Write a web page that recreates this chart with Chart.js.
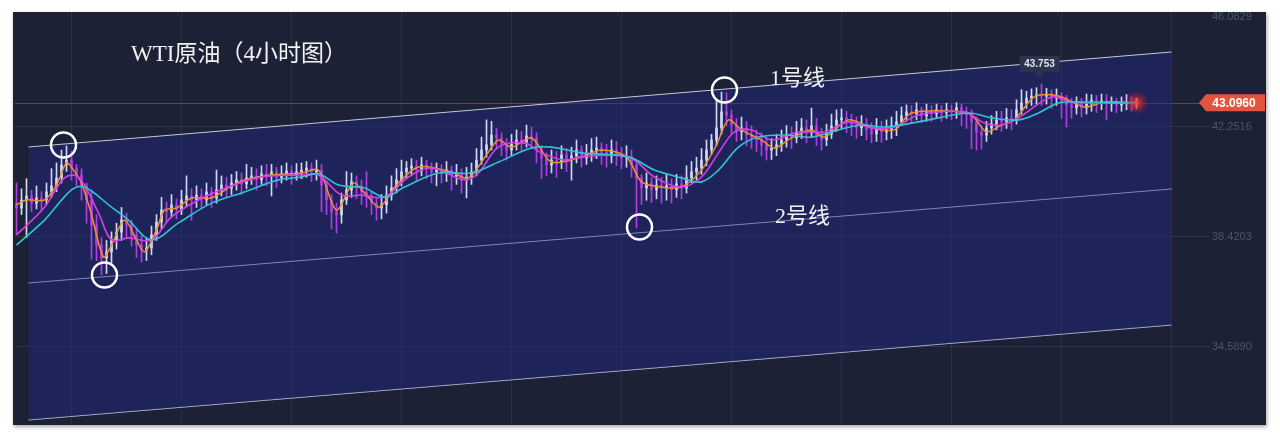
<!DOCTYPE html>
<html>
<head>
<meta charset="utf-8">
<script src="https://cdn.jsdelivr.net/npm/chart.js@4.4.1/dist/chart.umd.min.js"></script>
<style>
  html, body { margin: 0; padding: 0; background: #fff; }
  #panel { position: absolute; left: 13px; top: 12px; width: 1253px; height: 413px; background: #1c2136; box-shadow: 1px 2px 4px rgba(0,0,0,0.35); }
</style>
</head>
<body>
<div id="panel"><canvas id="wtiChart" width="1253" height="413"></canvas></div>
<script>
// 4h candles, index 0..224
const opens = [
  39.60, 39.43, 39.71, 39.85, 39.60, 39.78, 39.71, 39.99, 40.20, 40.48,
  40.93, 41.10, 40.82, 40.58, 40.23, 39.71, 38.84, 38.14, 37.69, 37.90,
  38.32, 38.59, 39.01, 38.84, 38.49, 38.14, 37.97, 38.04, 38.49, 38.94,
  39.36, 39.29, 39.54, 39.36, 39.71, 39.85, 39.71, 39.88, 39.71, 39.99,
  39.78, 40.06, 40.23, 40.13, 40.30, 40.41, 40.27, 40.48, 40.55, 40.41,
  40.62, 40.55, 40.69, 40.48, 40.62, 40.72, 40.55, 40.69, 40.75, 40.82,
  40.69, 40.75, 40.23, 39.71, 39.29, 39.19, 39.71, 40.06, 40.34, 40.20,
  39.99, 39.85, 39.60, 39.43, 39.54, 39.88, 40.13, 40.41, 40.69, 40.82,
  40.89, 40.75, 40.93, 40.82, 40.69, 40.75, 40.62, 40.75, 40.55, 40.62,
  40.41, 40.51, 40.69, 41.10, 41.45, 41.63, 41.97, 41.87, 41.63, 41.45,
  41.66, 41.80, 41.73, 41.94, 41.87, 41.45, 41.17, 40.93, 41.10, 41.03,
  41.28, 41.10, 41.24, 41.45, 41.17, 41.31, 41.45, 41.52, 41.38, 41.24,
  41.45, 41.28, 41.17, 41.21, 40.93, 40.48, 40.13, 40.30, 40.06, 40.23,
  40.13, 40.20, 40.06, 40.27, 40.13, 40.48, 40.69, 40.82, 41.10, 41.45,
  41.80, 42.22, 42.78, 42.67, 42.32, 42.08, 42.22, 41.97, 41.87, 41.80,
  41.63, 41.45, 41.52, 41.63, 41.80, 41.94, 41.87, 42.08, 42.22, 42.04,
  42.29, 41.97, 41.80, 42.01, 42.29, 42.50, 42.57, 42.43, 42.32, 42.22,
  42.36, 42.15, 42.01, 42.22, 42.08, 42.15, 42.29, 42.43, 42.64, 42.78,
  42.71, 42.85, 42.64, 42.78, 42.71, 42.85, 42.74, 42.85, 42.78, 42.92,
  42.78, 42.67, 42.43, 42.08, 41.97, 42.22, 42.36, 42.50, 42.43, 42.57,
  42.50, 42.85, 43.09, 43.26, 43.33, 43.37, 43.33, 43.40, 43.26, 43.33,
  43.12, 43.02, 42.92, 43.06, 42.92, 43.06, 43.19, 43.09, 43.16, 43.06,
  43.12, 43.02, 43.06, 43.12, 43.06
];
const highs = [
  40.30, 40.10, 40.45, 40.05, 40.20, 40.00, 40.30, 40.80, 41.00, 41.45,
  41.59, 41.40, 40.95, 40.80, 40.30, 40.06, 39.20, 38.40, 38.30, 38.60,
  38.90, 39.45, 39.25, 39.00, 38.70, 38.45, 38.40, 38.80, 39.20, 39.80,
  39.65, 39.90, 39.75, 40.05, 40.55, 40.10, 40.20, 40.10, 40.30, 40.15,
  40.75, 40.55, 40.50, 40.60, 40.70, 40.65, 40.95, 40.85, 40.80, 40.90,
  40.95, 40.95, 40.85, 40.90, 41.00, 40.90, 40.98, 41.00, 41.05, 41.00,
  41.10, 40.95, 40.35, 39.90, 39.60, 39.95, 40.70, 40.65, 40.55, 40.40,
  40.70, 40.00, 39.80, 39.90, 40.20, 40.55, 40.80, 41.10, 41.05, 41.15,
  41.10, 41.20, 41.10, 41.00, 41.00, 40.95, 41.05, 40.90, 40.95, 40.80,
  40.85, 41.00, 41.50, 41.90, 42.50, 42.45, 42.20, 42.05, 41.85, 42.00,
  42.15, 42.10, 42.32, 42.25, 42.05, 41.60, 41.35, 41.45, 41.40, 41.60,
  41.50, 41.55, 41.80, 41.60, 41.65, 41.85, 41.90, 41.70, 41.65, 41.80,
  41.75, 41.55, 41.60, 41.45, 41.10, 40.60, 40.65, 40.50, 40.55, 40.50,
  40.60, 40.45, 40.60, 40.55, 40.90, 41.05, 41.20, 41.50, 41.80, 42.00,
  43.20, 43.47, 43.45, 42.85, 42.55, 42.60, 42.45, 42.30, 42.15, 42.05,
  41.90, 41.85, 42.00, 42.15, 42.30, 42.25, 42.45, 42.55, 42.50, 42.91,
  42.55, 42.20, 42.35, 42.70, 42.85, 42.88, 42.80, 42.70, 42.60, 42.65,
  42.55, 42.40, 42.55, 42.45, 42.50, 42.60, 42.80, 42.95, 43.02, 43.00,
  43.10, 42.95, 43.05, 43.00, 43.05, 43.00, 43.08, 43.02, 43.10, 43.05,
  42.95, 42.85, 42.60, 42.30, 42.45, 42.65, 42.80, 42.80, 42.90, 42.85,
  43.20, 43.55, 43.50, 43.58, 43.62, 43.753, 43.60, 43.55, 43.58, 43.45,
  43.35, 43.25, 43.30, 43.25, 43.40, 43.38, 43.35, 43.40, 43.38, 43.30,
  43.25, 43.30, 43.38, 43.30, 43.25
];
const lows = [
  38.50, 39.20, 38.40, 39.30, 39.40, 39.35, 39.55, 39.80, 40.00, 40.30,
  40.70, 40.40, 40.20, 39.70, 38.90, 37.65, 37.60, 37.10, 37.15, 37.50,
  38.00, 38.30, 38.40, 38.10, 37.70, 37.55, 37.60, 37.80, 38.30, 38.70,
  38.95, 39.10, 39.05, 39.20, 39.50, 39.00, 39.45, 39.40, 39.55, 39.45,
  39.60, 39.85, 39.80, 39.90, 40.05, 39.90, 40.10, 40.25, 40.05, 40.25,
  40.20, 39.85, 40.15, 40.30, 40.40, 40.25, 40.40, 40.45, 40.50, 40.35,
  40.40, 39.30, 39.20, 38.70, 38.56, 38.90, 39.55, 39.80, 39.75, 39.55,
  39.45, 39.20, 39.00, 39.05, 39.25, 39.70, 39.95, 40.20, 40.45, 40.55,
  40.40, 40.55, 40.45, 40.30, 40.20, 40.30, 40.35, 40.05, 40.25, 39.95,
  39.78, 40.25, 40.55, 40.95, 41.20, 41.45, 41.50, 41.25, 41.10, 41.25,
  41.45, 41.40, 41.55, 41.50, 41.00, 40.45, 40.55, 40.65, 40.50, 40.80,
  40.70, 40.40, 41.00, 40.85, 40.95, 41.05, 41.15, 40.95, 40.85, 41.00,
  40.90, 40.80, 40.85, 40.50, 38.73, 39.55, 39.70, 39.62, 39.75, 39.60,
  39.70, 39.60, 39.80, 39.75, 39.95, 40.30, 40.40, 40.60, 40.90, 41.30,
  41.60, 42.00, 42.30, 42.00, 41.75, 41.80, 41.60, 41.50, 41.40, 41.25,
  41.10, 41.12, 41.25, 41.40, 41.55, 41.50, 41.70, 41.85, 41.70, 41.90,
  41.60, 41.45, 41.60, 41.85, 42.10, 42.20, 42.05, 41.95, 41.85, 41.95,
  41.80, 41.70, 41.75, 41.72, 41.80, 41.85, 41.95, 42.30, 42.45, 42.40,
  42.50, 42.40, 42.45, 42.45, 42.55, 42.45, 42.55, 42.50, 42.55, 42.30,
  42.20, 41.50, 41.45, 41.48, 41.75, 42.00, 42.15, 42.10, 42.20, 42.15,
  42.35, 42.70, 42.90, 43.00, 43.05, 43.00, 43.05, 42.90, 43.00, 42.55,
  42.25, 42.55, 42.70, 42.60, 42.70, 42.80, 42.75, 42.85, 42.50, 42.80,
  42.75, 42.80, 42.85, 42.82, 42.90
];
const closes = [
  39.43, 39.71, 39.85, 39.60, 39.78, 39.71, 39.99, 40.20, 40.48, 40.93,
  41.10, 40.82, 40.58, 40.23, 39.71, 38.84, 38.14, 37.69, 37.90, 38.32,
  38.59, 39.01, 38.84, 38.49, 38.14, 37.97, 38.04, 38.49, 38.94, 39.36,
  39.29, 39.54, 39.36, 39.71, 39.85, 39.71, 39.88, 39.71, 39.99, 39.78,
  40.06, 40.23, 40.13, 40.30, 40.41, 40.27, 40.48, 40.55, 40.41, 40.62,
  40.55, 40.69, 40.48, 40.62, 40.72, 40.55, 40.69, 40.75, 40.82, 40.69,
  40.75, 40.23, 39.71, 39.29, 39.19, 39.71, 40.06, 40.34, 40.20, 39.99,
  39.85, 39.60, 39.43, 39.54, 39.88, 40.13, 40.41, 40.69, 40.82, 40.89,
  40.75, 40.93, 40.82, 40.69, 40.75, 40.62, 40.75, 40.55, 40.62, 40.41,
  40.51, 40.69, 41.10, 41.45, 41.63, 41.97, 41.87, 41.63, 41.45, 41.66,
  41.80, 41.73, 41.94, 41.87, 41.45, 41.17, 40.93, 41.10, 41.03, 41.28,
  41.10, 41.24, 41.45, 41.17, 41.31, 41.45, 41.52, 41.38, 41.24, 41.45,
  41.28, 41.17, 41.21, 40.93, 40.48, 40.13, 40.30, 40.06, 40.23, 40.13,
  40.20, 40.06, 40.27, 40.13, 40.48, 40.69, 40.82, 41.10, 41.45, 41.80,
  42.22, 42.78, 42.67, 42.32, 42.08, 42.22, 41.97, 41.87, 41.80, 41.63,
  41.45, 41.52, 41.63, 41.80, 41.94, 41.87, 42.08, 42.22, 42.04, 42.29,
  41.97, 41.80, 42.01, 42.29, 42.50, 42.57, 42.43, 42.32, 42.22, 42.36,
  42.15, 42.01, 42.22, 42.08, 42.15, 42.29, 42.43, 42.64, 42.78, 42.71,
  42.85, 42.64, 42.78, 42.71, 42.85, 42.74, 42.85, 42.78, 42.92, 42.78,
  42.67, 42.43, 42.08, 41.97, 42.22, 42.36, 42.50, 42.43, 42.57, 42.50,
  42.85, 43.09, 43.26, 43.33, 43.37, 43.33, 43.40, 43.26, 43.33, 43.12,
  43.02, 42.92, 43.06, 42.92, 43.06, 43.19, 43.09, 43.16, 43.06, 43.12,
  43.02, 43.06, 43.12, 43.06, 43.096
];

// moving averages: [candle index, price]
const maFast = [
  [0, 39.54], [2, 39.71], [5.6, 39.71], [8, 40.23], [10, 41.00], [11.4, 40.75], [13, 40.30],
  [15, 39.19], [17.4, 37.72], [19, 38.14], [21.6, 39.01], [24, 38.32], [25.6, 37.90], [28, 38.66],
  [29.6, 39.36], [32, 39.43], [35, 39.78], [39, 39.78], [43, 40.20], [45.6, 40.41], [51, 40.58],
  [57, 40.65], [60.4, 40.75], [64, 39.36], [67.4, 40.30], [70, 39.88], [72.6, 39.46], [76, 40.23],
  [80.4, 40.86], [87, 40.68], [89.6, 40.48], [91, 40.55], [94, 41.28], [96.4, 41.80], [99, 41.55],
  [103, 41.87], [107, 41.03], [113, 41.21], [117, 41.45], [122, 41.21], [125, 40.34], [129, 40.16],
  [133, 40.16], [137, 40.75], [140, 41.63], [142.4, 42.50], [145, 42.15], [149, 41.80], [151.6, 41.52],
  [155, 41.87], [159, 42.15], [161.6, 41.90], [166.4, 42.50], [171, 42.22], [175.6, 42.15], [179, 42.74],
  [189.6, 42.77], [191.6, 42.57], [194, 42.08], [197, 42.32], [199.6, 42.50], [203.6, 43.30],
  [208.4, 43.33], [213.6, 42.95], [217.6, 43.12], [224, 43.10]
];
const maMid = [
  [0, 38.49], [5.6, 39.46], [9.6, 40.48], [12.4, 40.51], [16.4, 39.26], [19, 38.32], [22.4, 38.39],
  [27, 38.32], [31, 39.12], [36.4, 39.71], [42.4, 40.16], [49, 40.51], [57, 40.58], [60.4, 40.58],
  [65, 39.88], [69, 39.88], [73.6, 39.81], [78.4, 40.51], [83, 40.82], [89.6, 40.41], [92.4, 40.65],
  [96.4, 41.55], [101.6, 41.69], [105, 41.35], [109.6, 41.10], [113, 41.21], [122.4, 41.21],
  [127.6, 40.51], [133, 40.16], [137, 40.51], [140.4, 41.35], [143.6, 42.08], [147, 42.15],
  [151, 41.80], [156.4, 42.08], [161.6, 42.08], [166.4, 42.43], [171, 42.22], [175.6, 42.25],
  [180.4, 42.67], [189.6, 42.77], [193.6, 42.39], [197, 42.32], [200.4, 42.57], [207, 43.30],
  [211, 43.12], [217, 43.09], [224, 43.10]
];
const maSlow = [
  [0, 38.14], [5.6, 39.01], [11, 40.06], [13.6, 40.16], [19, 39.46], [22.4, 39.01], [27, 38.32],
  [32.4, 38.91], [39, 39.60], [45.6, 39.99], [52.4, 40.41], [57, 40.51], [60.4, 40.62], [64.4, 40.23],
  [69.6, 40.13], [73.6, 39.81], [77.6, 40.16], [84.4, 40.65], [91, 40.65], [96.4, 41.03], [103, 41.52],
  [107, 41.55], [113, 41.35], [122.4, 41.21], [127.6, 40.75], [133, 40.48], [137, 40.34], [140.4, 40.75],
  [144.4, 41.55], [148.4, 41.90], [154.4, 41.97], [159, 41.90], [164.4, 42.15], [169, 42.32],
  [173.6, 42.25], [180.4, 42.43], [190.4, 42.74], [195, 42.57], [200.4, 42.50], [204.4, 42.74],
  [208.4, 43.09], [213.6, 43.12], [220.4, 43.09], [224, 43.10]
];

// channel lines: start / end index and price
const channelX = [2.4, 231];
const line1 = [41.555, 44.864];
const line2 = [36.818, 40.092];
const lineLow = [32.047, 35.355];

// circled touch points [index, price]
const touches = [[9.4, 41.625], [17.6, 37.097], [141.6, 43.540], [124.6, 38.769]];

const yTicks = [34.5890, 38.4203, 42.2516, 46.0829];
const xGrid = [22, 44, 66, 88, 110, 132, 154, 176, 198, 220];
const peakIdx = 205;
const yMin = 31.907, yMax = 46.222;

const upColor = '#cfd7f2';
const downColor = '#b03ee0';
const candleColors = closes.map((c, i) => c >= opens[i] ? upColor : downColor);
const pts = arr => arr.map(([x, y]) => ({ x, y }));
const chLine = vals => [{ x: channelX[0], y: vals[0] }, { x: channelX[1], y: vals[1] }];

const overlay = {
  id: 'overlay',
  beforeDatasetsDraw(chart) {
    const { ctx, chartArea, scales: { y } } = chart;
    const py = Math.round(y.getPixelForValue(closes[closes.length - 1])) + 0.5;
    ctx.save();
    ctx.strokeStyle = 'rgba(229,83,60,0.5)';
    ctx.lineWidth = 1;
    ctx.beginPath();
    ctx.moveTo(chartArea.left, py);
    ctx.lineTo(1187, py);
    ctx.stroke();
    ctx.restore();
  },
  afterDatasetsDraw(chart) {
    const { ctx, scales: { x, y } } = chart;
    const last = closes.length - 1;
    const px = x.getPixelForValue(last);
    const py = y.getPixelForValue(closes[last]);
    ctx.save();
    // glow on the last price
    const g = ctx.createRadialGradient(px, py, 0, px, py, 12);
    g.addColorStop(0, 'rgba(255,70,60,0.95)');
    g.addColorStop(0.45, 'rgba(225,40,45,0.55)');
    g.addColorStop(1, 'rgba(200,30,40,0)');
    ctx.fillStyle = g;
    ctx.beginPath();
    ctx.arc(px, py, 12, 0, Math.PI * 2);
    ctx.fill();

    // last price tag
    ctx.fillStyle = '#e4533d';
    ctx.beginPath();
    ctx.moveTo(1186, py);
    ctx.lineTo(1193, py - 8.5);
    ctx.lineTo(1252, py - 8.5);
    ctx.lineTo(1252, py + 8.5);
    ctx.lineTo(1193, py + 8.5);
    ctx.closePath();
    ctx.fill();
    ctx.fillStyle = '#fff';
    ctx.font = 'bold 12px "Liberation Sans", Arial, sans-serif';
    ctx.textAlign = 'center';
    ctx.textBaseline = 'middle';
    ctx.fillText(closes[last].toFixed(4), 1221, py + 0.5);

    // peak tooltip
    const hx = x.getPixelForValue(peakIdx) - 2;
    const hy = y.getPixelForValue(highs[peakIdx]);
    ctx.fillStyle = '#2c334d';
    ctx.fillRect(hx - 20, hy - 28, 40, 16);
    ctx.beginPath();
    ctx.moveTo(hx - 5, hy - 12);
    ctx.lineTo(hx + 5, hy - 12);
    ctx.lineTo(hx, hy - 6);
    ctx.fill();
    ctx.fillStyle = '#dfe3ee';
    ctx.font = 'bold 10px "Liberation Sans", Arial, sans-serif';
    ctx.fillText(highs[peakIdx].toFixed(3), hx, hy - 20);

    // texts
    ctx.fillStyle = '#f2f2f2';
    ctx.textAlign = 'left';
    ctx.font = '23px "Liberation Serif", "Noto Sans CJK SC", serif';
    ctx.fillText('WTI原油（4小时图）', 118, 43);
    ctx.font = '22px "Liberation Serif", "Noto Sans CJK SC", serif';
    ctx.fillText('1号线', 757, 67);
    ctx.fillText('2号线', 762, 205);
    ctx.restore();
  }
};

const ctx = document.getElementById('wtiChart').getContext('2d');
const wtiChart = new Chart(ctx, {
  type: 'bar',
  data: {
    datasets: [
      {
        type: 'scatter',
        data: pts(touches),
        pointRadius: 12.5,
        pointBorderWidth: 2.5,
        pointBorderColor: '#ffffff',
        pointBackgroundColor: 'rgba(0,0,0,0)',
        clip: false,
        order: 0
      },
      { type: 'line', data: pts(maSlow), borderColor: '#33c3d8', borderWidth: 1.6, pointRadius: 0, tension: 0.35, order: 1 },
      { type: 'line', data: pts(maMid), borderColor: '#d83ee6', borderWidth: 1.6, pointRadius: 0, tension: 0.35, order: 1 },
      { type: 'line', data: pts(maFast), borderColor: '#f0902c', borderWidth: 1.5, pointRadius: 0, tension: 0.3, order: 1 },
      {
        data: highs.map((h, i) => ({ x: i, y: [lows[i], h] })),
        backgroundColor: candleColors,
        barThickness: 1,
        grouped: false,
        order: 2
      },
      {
        data: closes.map((c, i) => ({ x: i, y: [Math.min(opens[i], c), Math.max(opens[i], c)] })),
        backgroundColor: candleColors,
        barThickness: 2,
        grouped: false,
        order: 2
      },
      {
        type: 'line', data: chLine(line1), borderColor: '#c6cad6', borderWidth: 1, pointRadius: 0,
        fill: '+2', backgroundColor: 'rgba(34,39,139,0.42)', order: 3
      },
      { type: 'line', data: chLine(line2), borderColor: '#c6cad6', borderWidth: 1, pointRadius: 0, fill: false, order: 3 },
      { type: 'line', data: chLine(lineLow), borderColor: '#c6cad6', borderWidth: 1, pointRadius: 0, fill: false, order: 3 }
    ]
  },
  options: {
    responsive: false,
    animation: false,
    devicePixelRatio: 1,
    layout: { autoPadding: false, padding: { left: 2, top: 1, bottom: 1, right: 0 } },
    plugins: { legend: { display: false }, tooltip: { enabled: false } },
    scales: {
      x: {
        type: 'linear',
        min: -0.3,
        max: 231.1,
        offset: false,
        border: { display: false },
        grid: { color: 'rgba(255,255,255,0.07)', drawTicks: false },
        ticks: { display: false },
        afterBuildTicks: s => { s.ticks = xGrid.map(v => ({ value: v })); },
        afterFit: s => { s.height = 0; s.paddingLeft = 0; s.paddingRight = 0; }
      },
      y: {
        position: 'right',
        min: yMin,
        max: yMax,
        border: { display: false },
        grid: {
          color: c => (c.tick && c.tick.value > 46) ? 'rgba(0,0,0,0)' : 'rgba(255,255,255,0.08)',
          tickLength: 38
        },
        ticks: {
          color: '#4e5569',
          padding: 2,
          font: { size: 11, family: '"Liberation Sans", Arial, sans-serif' },
          callback: v => Number(v).toFixed(4)
        },
        afterBuildTicks: s => { s.ticks = yTicks.map(v => ({ value: v })); },
        afterFit: s => { s.width = 94; s.paddingTop = 0; s.paddingBottom = 0; }
      }
    }
  },
  plugins: [overlay]
});
</script>
</body>
</html>
